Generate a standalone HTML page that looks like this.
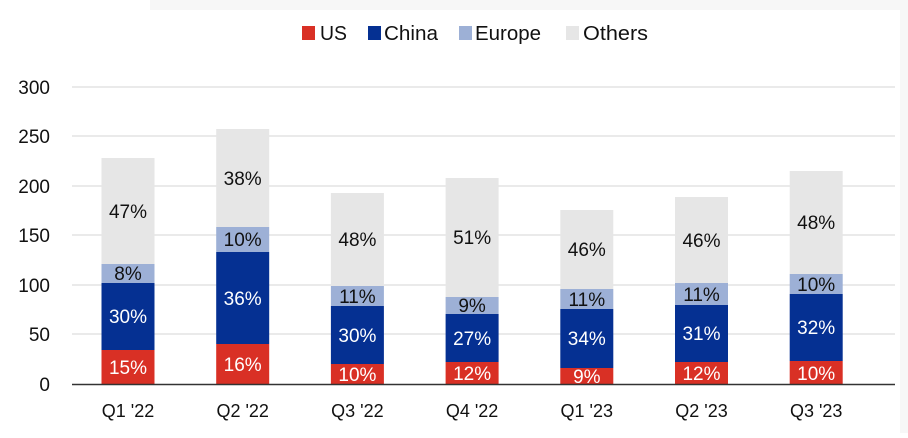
<!DOCTYPE html><html><head><style>
body{margin:0;background:#fff;}
svg text{font-family:"Liberation Sans",sans-serif;}
</style></head><body>
<svg width="908" height="433" xmlns="http://www.w3.org/2000/svg">
<rect x="0" y="0" width="908" height="433" fill="#fff"/>
<rect x="150" y="0" width="758" height="10" fill="#f7f7f7"/>
<rect x="900" y="0" width="8" height="433" fill="#f7f7f7"/>
<g font-size="20" fill="#111">
<rect x="302" y="26" width="13" height="14" fill="#d93025"/><text x="320" y="40" textLength="27" lengthAdjust="spacingAndGlyphs">US</text>
<rect x="368" y="26" width="13" height="14" fill="#053092"/><text x="384" y="40" textLength="54" lengthAdjust="spacingAndGlyphs">China</text>
<rect x="459" y="26" width="13" height="14" fill="#9db0d6"/><text x="475" y="40" textLength="66" lengthAdjust="spacingAndGlyphs">Europe</text>
<rect x="566" y="26" width="13" height="14" fill="#e6e6e6"/><text x="583" y="40" textLength="65" lengthAdjust="spacingAndGlyphs">Others</text>
</g>
<g stroke="#e3e3e3" stroke-width="1.5">
<line x1="72" x2="895" y1="87" y2="87"/><line x1="72" x2="895" y1="136" y2="136"/><line x1="72" x2="895" y1="186" y2="186"/><line x1="72" x2="895" y1="235" y2="235"/><line x1="72" x2="895" y1="285" y2="285"/><line x1="72" x2="895" y1="334" y2="334"/>
</g>
<g font-size="19" fill="#111" text-anchor="end">
<text x="50" y="94">300</text><text x="50" y="143">250</text><text x="50" y="193">200</text><text x="50" y="242">150</text><text x="50" y="292">100</text><text x="50" y="341">50</text><text x="50" y="391">0</text>
</g>
<g>
<rect x="101.5" y="158" width="53" height="106" fill="#e6e6e6"/><rect x="101.5" y="264" width="53" height="19" fill="#9db0d6"/><rect x="101.5" y="283" width="53" height="67" fill="#053092"/><rect x="101.5" y="350" width="53" height="34" fill="#d93025"/>
<rect x="216.2" y="129" width="53" height="98" fill="#e6e6e6"/><rect x="216.2" y="227" width="53" height="25" fill="#9db0d6"/><rect x="216.2" y="252" width="53" height="92" fill="#053092"/><rect x="216.2" y="344" width="53" height="40" fill="#d93025"/>
<rect x="330.9" y="193" width="53" height="93" fill="#e6e6e6"/><rect x="330.9" y="286" width="53" height="20" fill="#9db0d6"/><rect x="330.9" y="306" width="53" height="58" fill="#053092"/><rect x="330.9" y="364" width="53" height="20" fill="#d93025"/>
<rect x="445.6" y="178" width="53" height="119" fill="#e6e6e6"/><rect x="445.6" y="297" width="53" height="17" fill="#9db0d6"/><rect x="445.6" y="314" width="53" height="48" fill="#053092"/><rect x="445.6" y="362" width="53" height="22" fill="#d93025"/>
<rect x="560.3" y="210" width="53" height="79" fill="#e6e6e6"/><rect x="560.3" y="289" width="53" height="20" fill="#9db0d6"/><rect x="560.3" y="309" width="53" height="59" fill="#053092"/><rect x="560.3" y="368" width="53" height="16" fill="#d93025"/>
<rect x="675" y="197" width="53" height="86" fill="#e6e6e6"/><rect x="675" y="283" width="53" height="22" fill="#9db0d6"/><rect x="675" y="305" width="53" height="57" fill="#053092"/><rect x="675" y="362" width="53" height="22" fill="#d93025"/>
<rect x="789.7" y="171" width="53" height="103" fill="#e6e6e6"/><rect x="789.7" y="274" width="53" height="20" fill="#9db0d6"/><rect x="789.7" y="294" width="53" height="67" fill="#053092"/><rect x="789.7" y="361" width="53" height="23" fill="#d93025"/>
</g>
<g font-size="19" text-anchor="middle" fill="#111">
<text x="128" y="218">47%</text><text x="128" y="280">8%</text>
<text x="242.7" y="185">38%</text><text x="242.7" y="246">10%</text>
<text x="357.4" y="246">48%</text><text x="357.4" y="303">11%</text>
<text x="472.1" y="244">51%</text><text x="472.1" y="312">9%</text>
<text x="586.8" y="256">46%</text><text x="586.8" y="306">11%</text>
<text x="701.5" y="247">46%</text><text x="701.5" y="301">11%</text>
<text x="816.2" y="229">48%</text><text x="816.2" y="291">10%</text>
</g>
<g font-size="19" text-anchor="middle" fill="#fff">
<text x="128" y="323">30%</text><text x="128" y="374">15%</text>
<text x="242.7" y="305">36%</text><text x="242.7" y="371">16%</text>
<text x="357.4" y="342">30%</text><text x="357.4" y="381">10%</text>
<text x="472.1" y="345">27%</text><text x="472.1" y="380">12%</text>
<text x="586.8" y="345">34%</text><text x="586.8" y="383">9%</text>
<text x="701.5" y="340">31%</text><text x="701.5" y="380">12%</text>
<text x="816.2" y="334">32%</text><text x="816.2" y="380">10%</text>
</g>
<g font-size="18" text-anchor="middle" fill="#111">
<text x="128" y="417">Q1 '22</text><text x="242.7" y="417">Q2 '22</text><text x="357.4" y="417">Q3 '22</text><text x="472.1" y="417">Q4 '22</text><text x="586.8" y="417">Q1 '23</text><text x="701.5" y="417">Q2 '23</text><text x="816.2" y="417">Q3 '23</text>
</g>
<line x1="72" x2="895" y1="384.5" y2="384.5" stroke="#333" stroke-width="1.5"/>
</svg></body></html>
